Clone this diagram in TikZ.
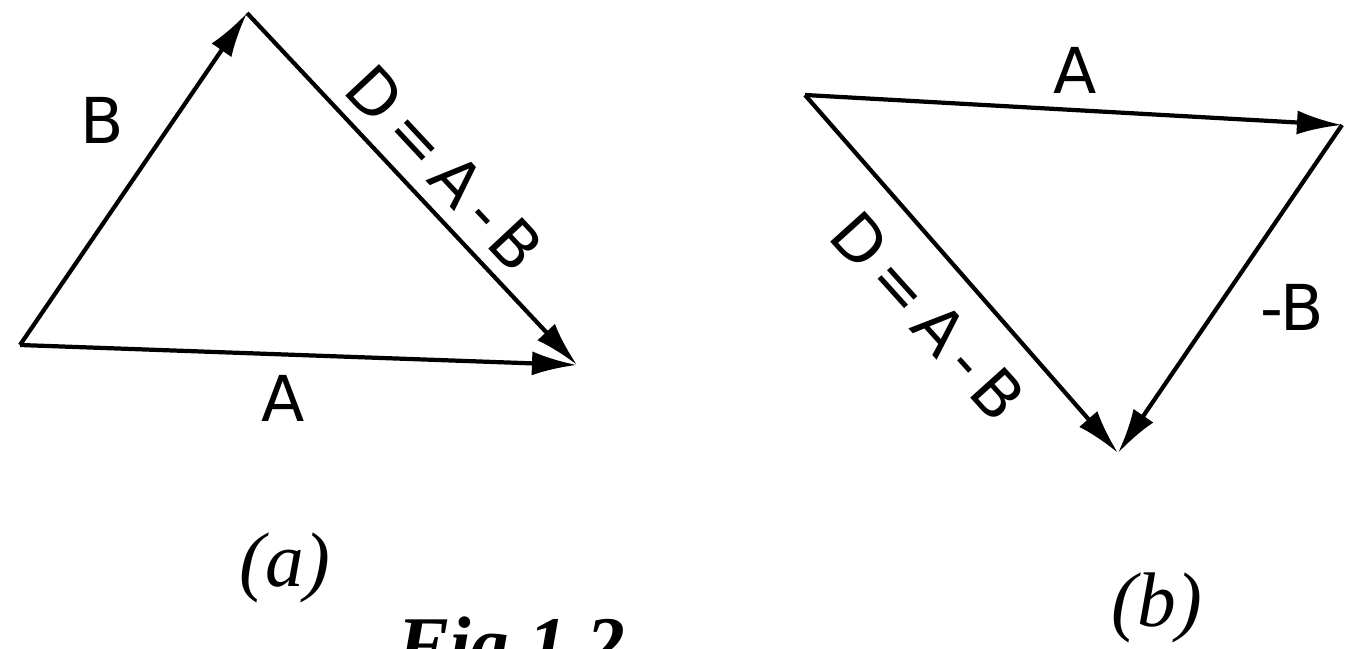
\documentclass[tikz,border=0pt]{standalone}
\usepackage{fontspec}
\usepackage{tikz}
\usetikzlibrary{arrows.meta,positioning,calc}
\newfontfamily\lblfont{DejaVu Sans}
\newfontfamily\capfont{Liberation Serif}

\begin{document}
\begin{tikzpicture}[
    x=0.01cm, y=-0.01cm,
    vec/.style={-{Latex[length=4.5mm,width=2.4mm]}, line width=1.2pt},
    lbl/.style={inner sep=0pt, font=\lblfont\fontsize{18}{21}\selectfont},
    captext/.style={inner sep=0pt, font=\capfont\itshape\fontsize{22}{26}\selectfont}
]
\useasboundingbox (0,0) rectangle (1345,649);

% Triangle (a)
\coordinate (aL) at (20,345);
\coordinate (aT) at (247,13);
\coordinate (aR) at (577,365);

\draw[vec] (aL) -- (aT);
\draw[vec] (aL) -- (aR);
\draw[vec] (aT) -- (aR);

\node[lbl] (aB) at (102,120) {B};
\node[lbl] (aA) at (283,398) {A};
\node[lbl, rotate=-47] (aD) at (445,168) {D\,=\,A\,-\,B};
\node[captext] (acap) at (285,568) {(\textit{a})};

% Triangle (b)
\coordinate (bP) at (805,95);
\coordinate (bQ) at (1342,125);
\coordinate (bS) at (1118,453);

\draw[vec] (bP) -- (bQ);
\draw[vec] (bQ) -- (bS);
\draw[vec] (bP) -- (bS);

\node[lbl] (bA) at (1075,70) {A};
\node[lbl] (bB) at (1292,307) {-B};
\node[lbl, rotate=-48] (bD) at (928,316) {D\,=\,A\,-\,B};
\node[captext] (bcap) at (1157,608) {(\textit{b})};

% Caption
\node[captext, font=\capfont\bfseries\itshape\fontsize{22}{26}\selectfont, anchor=base west] (fig) at (397,670) {Fig 1.2};

\end{tikzpicture}
\end{document}
